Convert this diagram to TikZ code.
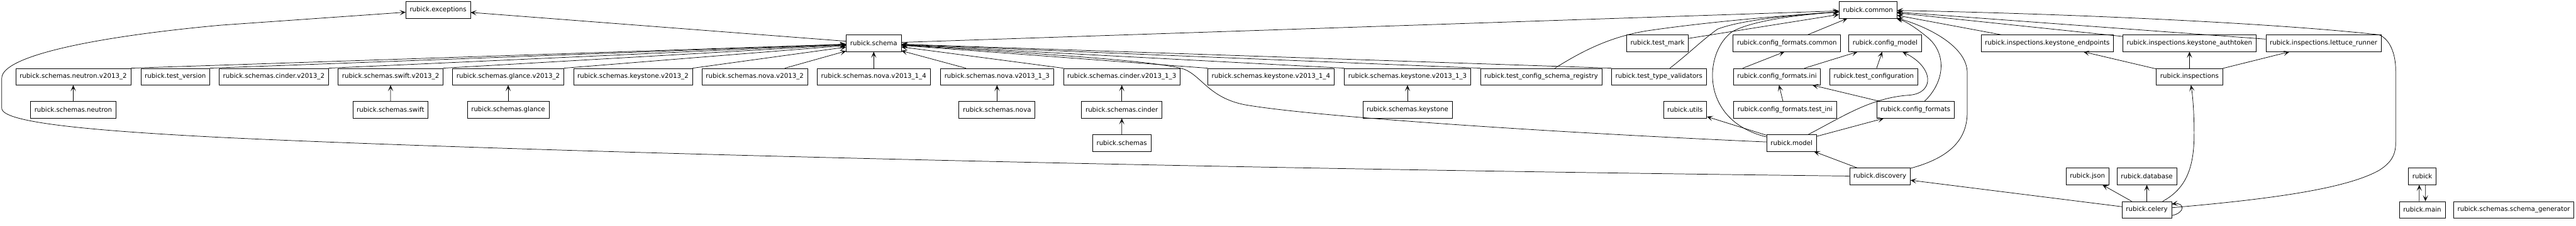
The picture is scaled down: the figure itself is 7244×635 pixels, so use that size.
\documentclass[tikz,border=0pt]{standalone}
\usepackage{fontspec}
\setmainfont{DejaVu Sans}
\usetikzlibrary{arrows.meta}
\begin{document}
\begin{tikzpicture}[x=1pt,y=-1pt,
  mod/.style={draw, line width=1.3pt, minimum height=46.6pt, inner xsep=11pt, inner ysep=0pt,
              font=\fontsize{18.1pt}{21pt}\selectfont},
  dep/.style={line width=1.3pt, -{Stealth[length=17pt,width=14.6pt,inset=9pt]}}]
\useasboundingbox (0,0) rectangle (7244,635);
% row 0
\node[mod] (exc) at (1232,28) {rubick.exceptions};
\node[mod] (common) at (5253,28) {rubick.common};
% row 1
\node[mod] (schema) at (2457,122) {rubick.schema};
\node[mod] (tmark) at (4661,122) {rubick.test\_mark};
\node[mod] (cfcommon) at (5025,122) {rubick.config\_formats.common};
\node[mod] (cfmodel) at (5301,122) {rubick.config\_model};
\node[mod] (insend) at (5757,122) {rubick.inspections.keystone\_endpoints};
\node[mod] (insauth) at (6157,122) {rubick.inspections.keystone\_authtoken};
\node[mod] (inslet) at (6534,122) {rubick.inspections.lettuce\_runner};
% row 2
\node[mod] (neu2) at (206,216) {rubick.schemas.neutron.v2013\_2};
\node[mod] (tver) at (493,216) {rubick.test\_version};
\node[mod] (cin2) at (770,216) {rubick.schemas.cinder.v2013\_2};
\node[mod] (swi2) at (1098.5,216) {rubick.schemas.swift.v2013\_2};
\node[mod] (gla2) at (1429,216) {rubick.schemas.glance.v2013\_2};
\node[mod] (key2) at (1780,216) {rubick.schemas.keystone.v2013\_2};
\node[mod] (nova2) at (2122.6,216) {rubick.schemas.nova.v2013\_2};
\node[mod] (nova14) at (2457,216) {rubick.schemas.nova.v2013\_1\_4};
\node[mod] (nova13) at (2803.7,216) {rubick.schemas.nova.v2013\_1\_3};
\node[mod] (cin13) at (3154.6,216) {rubick.schemas.cinder.v2013\_1\_3};
\node[mod] (key14) at (3574,216) {rubick.schemas.keystone.v2013\_1\_4};
\node[mod] (key13) at (3958,216) {rubick.schemas.keystone.v2013\_1\_3};
\node[mod] (tcsr) at (4334,216) {rubick.test\_config\_schema\_registry};
\node[mod] (ttv) at (4665,216) {rubick.test\_type\_validators};
\node[mod] (cfini) at (4997,216) {rubick.config\_formats.ini};
\node[mod] (tconf) at (5269,216) {rubick.test\_configuration};
\node[mod] (insp) at (6157,216) {rubick.inspections};
% row 3
\node[mod] (neu) at (206,309.5) {rubick.schemas.neutron};
\node[mod] (swi) at (1098,309.5) {rubick.schemas.swift};
\node[mod] (gla) at (1429,309.5) {rubick.schemas.glance};
\node[mod] (nova) at (2803.7,309.5) {rubick.schemas.nova};
\node[mod] (cin) at (3154.6,309.5) {rubick.schemas.cinder};
\node[mod] (key) at (3958,309.5) {rubick.schemas.keystone};
\node[mod] (utils) at (4738.5,309.5) {rubick.utils};
\node[mod] (cftini) at (5019.7,309.5) {rubick.config\_formats.test\_ini};
\node[mod] (cf) at (5386.5,309.5) {rubick.config\_formats};
% row 4
\node[mod] (schemas) at (3154.4,403) {rubick.schemas};
\node[mod] (model) at (5038,403) {rubick.model};
% row 5
\node[mod] (disc) at (5286.5,497) {rubick.discovery};
\node[mod] (json) at (5870,497) {rubick.json};
\node[mod] (db) at (6037,497) {rubick.database};
\node[mod] (rubick) at (6811.7,497) {rubick};
% row 6
\node[mod] (celery) at (6037,591) {rubick.celery};
\node[mod] (main) at (6811.5,591) {rubick.main};
\node[mod] (sgen) at (7069,591) {rubick.schemas.schema\_generator};

% edges
\draw[dep] (neu) -- (neu2);
\draw[dep] (swi) -- (swi2);
\draw[dep] (gla) -- (gla2);
\draw[dep] (nova) -- (nova13);
\draw[dep] (cin) -- (cin13);
\draw[dep] (schemas) -- (cin);
\draw[dep] (key) -- (key13);
\foreach \n in {neu2,tver,cin2,swi2,gla2,key2}
  \draw[dep] (\n.north east) -- (schema);
\draw[dep] ([xshift=84.5pt]nova2.north) -- (schema);
\draw[dep] (nova14) -- (schema);
\draw[dep] ([xshift=-87.7pt]nova13.north) -- (schema);
\foreach \n in {cin13,key14,key13,tcsr,ttv}
  \draw[dep] (\n.north west) -- (schema);
\draw[dep] (schema) -- (exc);
\draw[dep] (schema) -- (common);
\draw[dep] (tmark) -- (common);
\draw[dep] (tcsr) .. controls (4440,150) and (4520,105) .. (4630,87)
                  .. controls (4800,62) and (5000,45) .. (common);
\draw[dep] (ttv) .. controls (4750,150) and (4790,110) .. (4830,82)
                 .. controls (4900,55) and (5050,42) .. (common);
\draw[dep] (model) .. controls (4400,375) and (3700,330) .. (3500,295)
                   .. controls (3400,275) and (3380,215) .. (3330,195)
                   .. controls (3250,170) and (2900,150) .. (schema);
\draw[dep] (model) .. controls (4780,340) and (4790,150) .. (4870,90)
                   .. controls (4930,55) and (5080,40) .. (common);
\draw[dep] (model) .. controls (5180,330) and (5260,275) .. (5370,268)
                   .. controls (5440,262) and (5440,190) .. (cfmodel);
\draw[dep] (model) -- (cf);
\draw[dep] (model) -- (utils);
\draw[dep] (disc) -- (model);
\draw[dep] (cfcommon) -- (common);
\draw[dep] (cfini.166) -- ([xshift=-7pt]cfcommon.south);
\draw[dep] (cfini) -- (cfmodel);
\draw[dep] (tconf) -- (cfmodel);
\draw[dep] (cftini) -- (cfini);
\draw[dep] (cf) -- (cfini);
\draw[dep] (cf) .. controls (5470,230) and (5475,150) .. (5420,105)
                .. controls (5390,80) and (5360,60) .. (common);
\draw[dep] (disc) .. controls (5500,440) and (5532,380) .. (5532,316) -- (5532,205)
                  .. controls (5532,130) and (5420,75) .. (common);
\draw[dep] (disc) .. controls (3000,470) and (1300,420) .. (620,387)
                  .. controls (250,368) and (5,345) .. (5,305) -- (5,220)
                  .. controls (5,160) and (250,105) .. (620,71) -- (exc);
\draw[dep] (insp) -- (insend);
\draw[dep] (insp) -- (insauth);
\draw[dep] (insp) -- (inslet);
\draw[dep] (insend) -- (common);
\draw[dep] (insauth) -- (common);
\draw[dep] (inslet) -- (common);
\draw[dep] (celery) -- (json);
\draw[dep] (celery) -- (db);
\draw[dep] (celery) -- (disc);
\draw[dep] (celery) .. controls (6160,525) and (6172,450) .. (6170,356)
                    .. controls (6169,300) and (6165,262) .. (insp);
\draw[dep] (celery.-13) .. controls (6145,600) and (6145,570) .. (celery.13);
\draw[dep] (celery) .. controls (6400,560) and (6600,530) .. (6690,480)
                    .. controls (6730,455) and (6737,430) .. (6737,400) -- (6737,200)
                    .. controls (6737,150) and (6720,110) .. (6690,98)
                    .. controls (6400,65) and (5800,38) .. (common);
\draw[dep] ([xshift=-8.5pt]main.north) -- ([xshift=-8.5pt]rubick.south);
\draw[dep] ([xshift=9pt]rubick.south) -- ([xshift=9pt]main.north);
\end{tikzpicture}
\end{document}
